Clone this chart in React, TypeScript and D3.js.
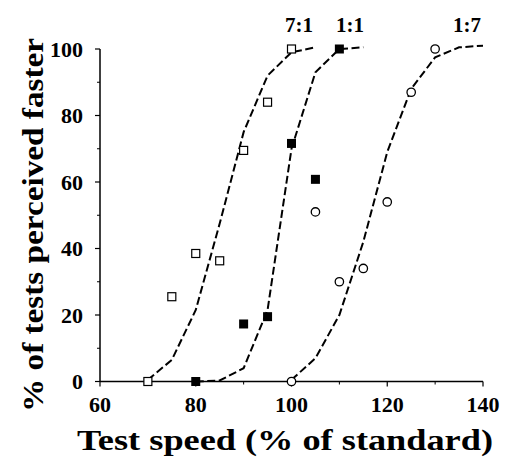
import React from "react";
import * as d3 from "d3";

// Psychometric data: percent of trials where the test stimulus was judged faster
const speeds71 = [70, 75, 80, 85, 90, 95, 100];
const pct71 = [0, 25.5, 38.5, 36.3, 69.5, 84, 100];

const speeds11 = [80, 90, 95, 100, 105, 110];
const pct11 = [0, 17.3, 19.5, 71.6, 60.8, 100];

const speeds17 = [100, 105, 110, 115, 120, 125, 130];
const pct17 = [0, 51, 30, 34, 54, 87, 100];

// Fitted curves, sampled every 5%
const fitX71 = [70, 75, 80, 85, 90, 95, 100, 105];
const fitY71 = [0.5, 6.5, 21.5, 47.5, 75, 92, 99, 100.5];

const fitX11 = [80, 85, 90, 95, 100, 105, 110, 115];
const fitY11 = [0, 0.3, 4, 21.5, 70, 93, 100, 100.5];

const fitX17 = [100, 105, 110, 115, 120, 125, 130, 135, 140];
const fitY17 = [0.5, 7, 20, 42, 69, 88, 97.5, 100.5, 101];

const seriesLabels = ["7:1", "1:1", "1:7"];

const xTicks = [60, 80, 100, 120, 140];
const xMinor = [70, 90, 110, 130];
const yTicks = [0, 20, 40, 60, 80, 100];
const yMinor = [10, 30, 50, 70, 90];

const W = 505;
const H = 457;

const FONT = "Liberation Serif";

export default function App() {
  const x = d3.scaleLinear().domain([60, 140]).range([100, 483]);
  const y = d3.scaleLinear().domain([0, 100]).range([381.5, 49]);

  const line = d3
    .line<[number, number]>()
    .x((d) => x(d[0]))
    .y((d) => y(d[1]));

  const fits = [
    d3.zip(fitX71, fitY71) as [number, number][],
    d3.zip(fitX11, fitY11) as [number, number][],
    d3.zip(fitX17, fitY17) as [number, number][],
  ];

  const txt: React.CSSProperties = { fontFamily: FONT, fontWeight: "bold" };
  const sq = 8;

  return (
    <svg
      width={W}
      height={H}
      style={{ position: "absolute", left: 0, top: 0, background: "#fff" }}
    >
      <rect width={W} height={H} fill="#fff" />

      {/* axes */}
      <line x1={x(60)} x2={x(140)} y1={y(0)} y2={y(0)} stroke="#000" strokeWidth={1.3} />
      <line x1={x(60)} x2={x(60)} y1={y(0)} y2={y(100)} stroke="#000" strokeWidth={1.5} />

      {xTicks.map((t) => (
        <g key={"xt" + t}>
          <line x1={x(t)} x2={x(t)} y1={y(0)} y2={y(0) + 5} stroke="#000" strokeWidth={1.2} />
          <text x={x(t)} y={412} textAnchor="middle" fontSize={22} fill="#000" style={txt}>
            {t}
          </text>
        </g>
      ))}
      {xMinor.map((t) => (
        <line key={"xm" + t} x1={x(t)} x2={x(t)} y1={y(0)} y2={y(0) + 3} stroke="#000" strokeWidth={1} />
      ))}

      {yTicks.map((t) => (
        <g key={"yt" + t}>
          <line x1={x(60) - 5} x2={x(60)} y1={y(t)} y2={y(t)} stroke="#000" strokeWidth={1.2} />
          <text x={83} y={y(t) + 7.5} textAnchor="end" fontSize={22} fill="#000" style={txt}>
            {t}
          </text>
        </g>
      ))}
      {yMinor.map((t) => (
        <line key={"ym" + t} x1={x(60) - 3} x2={x(60)} y1={y(t)} y2={y(t)} stroke="#000" strokeWidth={1} />
      ))}

      {/* fitted curves */}
      {fits.map((pts, i) => (
        <path
          key={"fit" + i}
          d={line(pts) ?? ""}
          fill="none"
          stroke="#000"
          strokeWidth={2}
          strokeDasharray="8,3.5"
        />
      ))}

      {/* 7:1 open squares */}
      {speeds71.map((s, i) => (
        <rect
          key={"a" + i}
          x={x(s) - sq / 2}
          y={y(pct71[i]) - sq / 2}
          width={sq}
          height={sq}
          fill="#fff"
          stroke="#000"
          strokeWidth={1.2}
        />
      ))}

      {/* 1:1 filled squares */}
      {speeds11.map((s, i) => (
        <rect
          key={"b" + i}
          x={x(s) - 4.5}
          y={y(pct11[i]) - 4.5}
          width={9}
          height={9}
          fill="#000"
        />
      ))}

      {/* 1:7 open circles */}
      {speeds17.map((s, i) => (
        <circle
          key={"c" + i}
          cx={x(s)}
          cy={y(pct17[i])}
          r={4.2}
          fill="#fff"
          stroke="#000"
          strokeWidth={1.3}
        />
      ))}

      {/* series labels */}
      {seriesLabels.map((lab, i) => (
        <text
          key={"lab" + i}
          x={[299, 350, 467][i]}
          y={32}
          textAnchor="middle"
          fontSize={21}
          fill="#000"
          style={txt}
        >
          {lab}
        </text>
      ))}

      {/* axis titles */}
      <text
        x={285}
        y={450}
        textAnchor="middle"
        fontSize={30}
        fill="#000"
        textLength={416}
        lengthAdjust="spacingAndGlyphs"
        style={txt}
      >
        Test speed (% of standard)
      </text>
      <text
        transform="translate(43,225) rotate(-90)"
        textAnchor="middle"
        fontSize={30}
        fill="#000"
        textLength={374}
        lengthAdjust="spacingAndGlyphs"
        style={txt}
      >
        % of tests perceived faster
      </text>
    </svg>
  );
}
